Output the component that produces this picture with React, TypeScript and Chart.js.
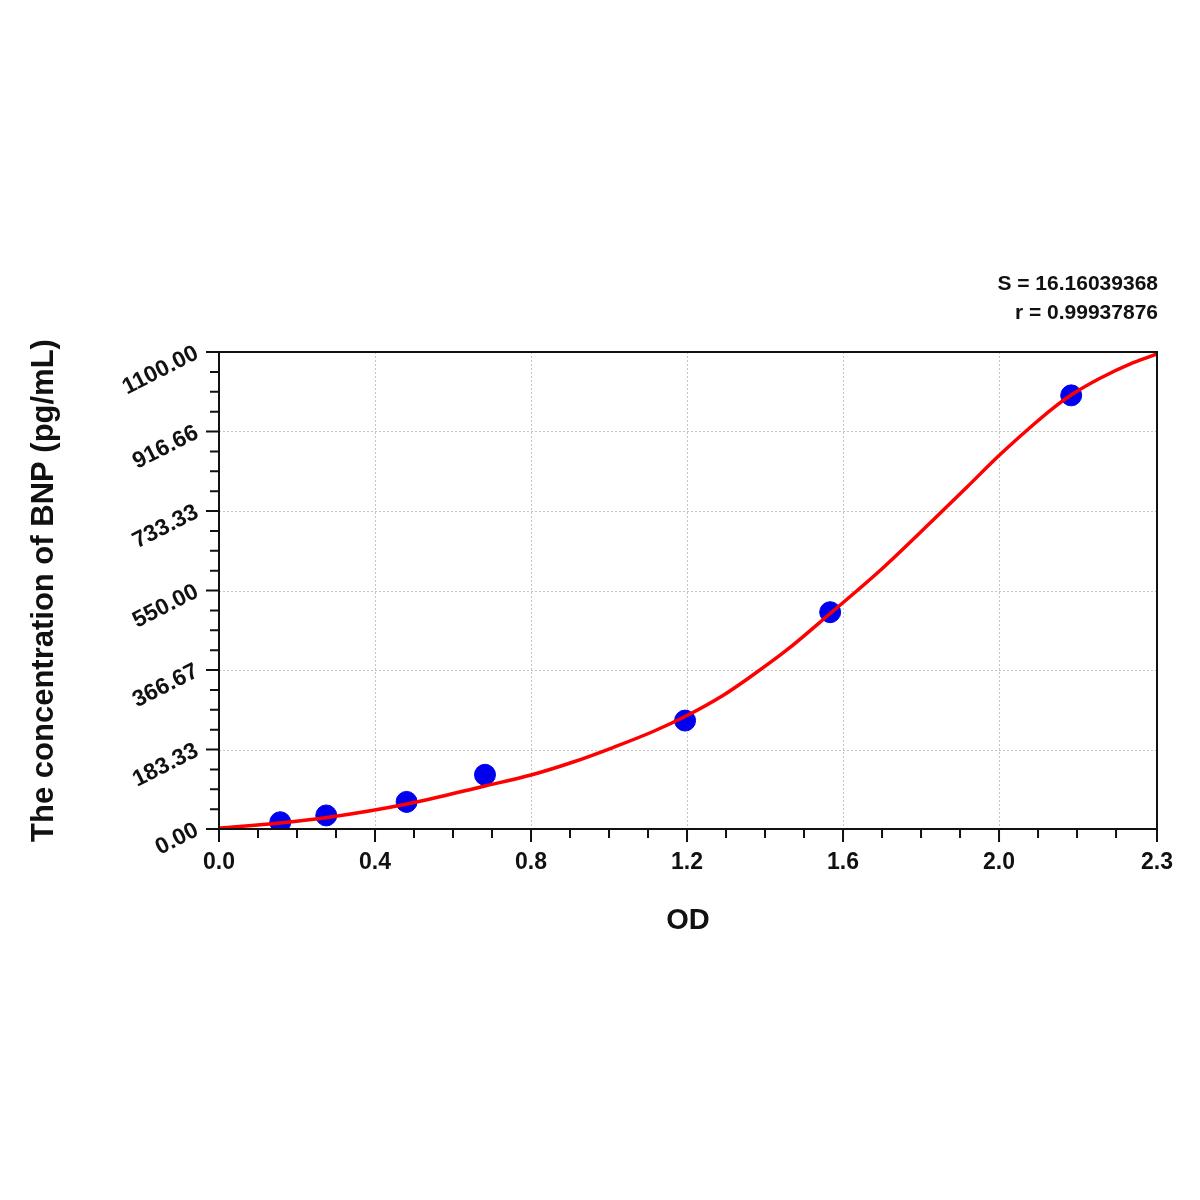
import { useEffect, useRef } from 'react';
import { Chart, registerables } from 'chart.js';

Chart.register(...registerables);

// fitted curve
const CURVE_OD = [0, 0.156, 0.277, 0.482, 0.682, 0.8, 0.908, 1.01, 1.113, 1.2, 1.292, 1.369, 1.456, 1.567, 1.695, 1.831, 1.918, 2.0, 2.087, 2.138, 2.185, 2.259, 2.344, 2.405];
const CURVE_CONC = [2, 14, 26.5, 57.7, 99.2, 124.5, 154.5, 187.9, 224.8, 261.7, 307.9, 355.1, 412.8, 496.9, 596.1, 712.6, 788.7, 861.3, 931.7, 970.2, 1000.8, 1039.3, 1075.3, 1095.4];

// standards
const STD_OD = [0.157, 0.275, 0.481, 0.682, 1.195, 1.567, 2.185];
const STD_CONC = [15.63, 31.25, 62.5, 125, 250, 500, 1000];

const X_TICK_VALUES = [0, 0.4, 0.8, 1.2, 1.6, 2.0, 2.405];
const X_TICK_LABELS = ['0.0', '0.4', '0.8', '1.2', '1.6', '2.0', '2.3'];
const Y_TICK_VALUES = [0, 183.33, 366.67, 550, 733.33, 916.67, 1100];
const Y_TICK_LABELS = ['0.00', '183.33', '366.67', '550.00', '733.33', '916.66', '1100.00'];
const FIT_STATS = ['S = 16.16039368', 'r = 0.99937876'];

const FONT = "'Liberation Sans', Arial, Helvetica, sans-serif";
const INK = '#111111';

const axisDecor = {
  id: 'axisDecor',
  beforeDatasetsDraw(chart: any) {
    const { ctx, chartArea: a, scales } = chart;
    const { x, y } = scales;
    ctx.save();
    ctx.strokeStyle = '#c4c4c4';
    ctx.lineWidth = 1;
    ctx.setLineDash([2, 2]);
    ctx.beginPath();
    X_TICK_VALUES.slice(1, -1).forEach((v) => {
      const px = Math.round(x.getPixelForValue(v)) + 0.5;
      ctx.moveTo(px, a.top);
      ctx.lineTo(px, a.bottom);
    });
    Y_TICK_VALUES.slice(1, -1).forEach((v) => {
      const py = Math.round(y.getPixelForValue(v)) + 0.5;
      ctx.moveTo(a.left, py);
      ctx.lineTo(a.right, py);
    });
    ctx.stroke();
    ctx.restore();
  },
  afterDatasetsDraw(chart: any) {
    const { ctx, chartArea: a, scales } = chart;
    const { x, y } = scales;
    ctx.save();
    ctx.strokeStyle = INK;
    ctx.lineWidth = 2;
    ctx.strokeRect(a.left, a.top, a.right - a.left, a.bottom - a.top);

    ctx.beginPath();
    // x ticks: minor every 0.1, major at labels
    for (let i = 1; i <= 23; i++) {
      if (i % 4 === 0) continue;
      const px = x.getPixelForValue(i / 10);
      ctx.moveTo(px, a.bottom);
      ctx.lineTo(px, a.bottom + 9);
    }
    X_TICK_VALUES.forEach((v) => {
      const px = x.getPixelForValue(v);
      ctx.moveTo(px, a.bottom);
      ctx.lineTo(px, a.bottom + 13);
    });
    // y ticks: 3 minor between majors
    for (let i = 1; i < 24; i++) {
      if (i % 4 === 0) continue;
      const py = y.getPixelForValue((i * 1100) / 24);
      ctx.moveTo(a.left - 9, py);
      ctx.lineTo(a.left, py);
    }
    Y_TICK_VALUES.forEach((v) => {
      const py = y.getPixelForValue(v);
      ctx.moveTo(a.left - 13, py);
      ctx.lineTo(a.left, py);
    });
    ctx.stroke();

    ctx.fillStyle = INK;
    ctx.font = `bold 21px ${FONT}`;
    ctx.textAlign = 'right';
    ctx.textBaseline = 'alphabetic';
    ctx.fillText(FIT_STATS[0], a.right + 1, a.top - 62);
    ctx.fillText(FIT_STATS[1], a.right + 1, a.top - 33);
    ctx.restore();
  },
};

export default function App() {
  const canvasRef = useRef<HTMLCanvasElement>(null);

  useEffect(() => {
    if (!canvasRef.current) return;

    const chart = new Chart(canvasRef.current, {
      type: 'scatter',
      data: {
        datasets: [
          {
            label: 'Fit',
            data: CURVE_OD.map((v, i) => ({ x: v, y: CURVE_CONC[i] })),
            showLine: true,
            borderColor: '#ff0000',
            borderWidth: 3.5,
            pointRadius: 0,
            cubicInterpolationMode: 'monotone',
            order: 0,
          },
          {
            label: 'Standards',
            data: STD_OD.map((v, i) => ({ x: v, y: STD_CONC[i] })),
            backgroundColor: '#0000ee',
            borderColor: '#0000ee',
            pointRadius: 10.5,
            order: 1,
          },
        ],
      },
      options: {
        responsive: false,
        animation: false,
        devicePixelRatio: 1,
        layout: { padding: { top: 352, right: 43, left: 0, bottom: 0 } },
        plugins: {
          legend: { display: false },
          tooltip: { enabled: false },
        },
        scales: {
          x: {
            type: 'linear',
            min: 0,
            max: 2.405,
            grid: { display: false, drawTicks: false },
            border: { display: false },
            afterBuildTicks: (s: any) => {
              s.ticks = X_TICK_VALUES.map((value) => ({ value }));
            },
            afterFit: (s: any) => {
              s.height = 371;
            },
            ticks: {
              autoSkip: false,
              maxRotation: 0,
              minRotation: 0,
              padding: 20,
              color: INK,
              font: { family: FONT, size: 23, weight: 'bold' },
              callback: (_v: any, i: number) => X_TICK_LABELS[i],
            },
            title: {
              display: true,
              text: 'OD',
              color: INK,
              font: { family: FONT, size: 29, weight: 'bold' },
              padding: { top: 0, bottom: 262 },
            },
          },
          y: {
            type: 'linear',
            min: 0,
            max: 1100,
            grid: { display: false, drawTicks: false },
            border: { display: false },
            afterBuildTicks: (s: any) => {
              s.ticks = Y_TICK_VALUES.map((value) => ({ value }));
            },
            afterFit: (s: any) => {
              s.width = 219;
            },
            ticks: {
              autoSkip: false,
              minRotation: 27,
              maxRotation: 27,
              padding: 22,
              color: INK,
              font: { family: FONT, size: 23, weight: 'bold' },
              callback: (_v: any, i: number) => Y_TICK_LABELS[i],
            },
            title: {
              display: true,
              text: 'The concentration of BNP (pg/mL)',
              color: INK,
              font: { family: FONT, size: 31, weight: 'bold' },
              padding: { top: 26, bottom: 0 },
            },
          },
        },
      },
      plugins: [axisDecor],
    } as any);

    return () => chart.destroy();
  }, []);

  return (
    <div style={{ position: 'absolute', left: 0, top: 0, width: 1200, height: 1200, background: '#fff' }}>
      <canvas ref={canvasRef} width={1200} height={1200}></canvas>
    </div>
  );
}
